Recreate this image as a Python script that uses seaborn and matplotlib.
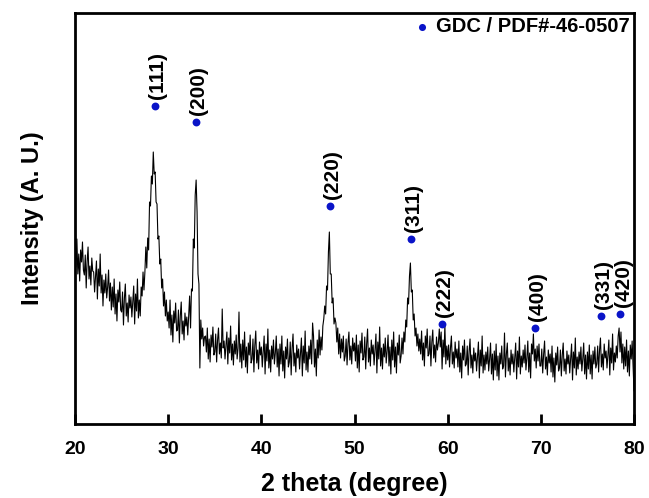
import numpy as np
import pandas as pd
import matplotlib
matplotlib.use('Agg')
import matplotlib.pyplot as plt
import seaborn as sns

# XRD scan, 20-80 deg, 0.1 deg step (intensity in arbitrary units)
scan_start = 20.0
scan_step = 0.1
intensity = [
    177, 157, 185, 150, 170, 143, 174, 162, 182, 154,   # 20
    149, 169, 136, 163, 177, 145, 158, 139, 166, 153,   # 21
    152, 132, 148, 163, 125, 155, 138, 170, 131, 149,   # 22
    118, 144, 131, 150, 126, 137, 154, 123, 141, 114,   # 23
    137, 117, 145, 110, 130, 103, 134, 122, 142, 114,   # 24
    112, 132, 99, 126, 140, 108, 121, 102, 129, 116,    # 25
    127, 107, 123, 138, 100, 130, 113, 145, 106, 124,   # 26
    108, 137, 128, 152, 134, 152, 177, 156, 186, 174,   # 27
    222, 218, 248, 240, 272, 250, 252, 222, 220, 185,   # 28
    188, 160, 165, 136, 145, 118, 132, 108, 124, 103,   # 29
    112, 96, 124, 89, 109, 82, 113, 101, 121, 93,       # 30
    94, 114, 81, 108, 122, 90, 103, 84, 111, 98,        # 31
    107, 89, 108, 128, 96, 135, 133, 185, 176, 229,     # 32
    244, 212, 150, 140, 56, 104, 85, 96, 78, 87,        # 33
    88, 72, 96, 65, 85, 62, 89, 77, 97, 69,             # 34
    72, 90, 62, 84, 96, 70, 81, 66, 115, 76,            # 35
    83, 65, 79, 92, 60, 86, 71, 98, 64, 80,             # 36
    59, 83, 70, 89, 65, 76, 112, 62, 80, 56,            # 37
    84, 64, 92, 57, 77, 51, 81, 69, 89, 61,             # 38
    65, 85, 52, 79, 93, 61, 74, 55, 82, 69,             # 39
    77, 57, 73, 88, 50, 80, 63, 95, 56, 74,             # 40
    52, 78, 65, 84, 60, 71, 88, 57, 75, 48,             # 41
    80, 60, 88, 53, 73, 46, 77, 65, 85, 57,             # 42
    62, 82, 49, 76, 90, 58, 71, 52, 79, 66,             # 43
    75, 55, 71, 86, 48, 78, 61, 93, 54, 72,             # 44
    52, 78, 65, 84, 60, 101, 88, 57, 75, 48,            # 45
    84, 66, 94, 69, 87, 74, 98, 105, 118, 110,          # 46
    138, 134, 172, 192, 150, 150, 121, 126, 100, 106,   # 47
    101, 82, 96, 70, 90, 66, 85, 72, 88, 63,            # 48
    68, 85, 59, 81, 92, 64, 78, 60, 86, 73,             # 49
    81, 63, 89, 56, 79, 52, 83, 71, 91, 64,             # 50
    67, 87, 55, 80, 95, 62, 76, 58, 84, 70,             # 51
    79, 59, 75, 90, 51, 82, 65, 97, 58, 76,             # 52
    55, 80, 67, 86, 61, 73, 89, 58, 77, 50,             # 53
    84, 64, 92, 57, 77, 51, 81, 69, 89, 61,             # 54
    68, 86, 70, 92, 82, 104, 97, 126, 120, 148,         # 55
    161, 132, 134, 104, 110, 88, 96, 78, 90, 73,        # 56
    85, 70, 93, 64, 81, 58, 88, 76, 95, 68,             # 57
    70, 88, 58, 82, 94, 66, 79, 62, 87, 74,             # 58
    81, 95, 77, 92, 55, 84, 67, 99, 60, 78,             # 59
    64, 79, 57, 76, 88, 60, 72, 56, 82, 66,             # 60
    75, 57, 83, 52, 71, 46, 78, 64, 84, 58,             # 61
    60, 78, 49, 73, 85, 56, 69, 51, 76, 63,             # 62
    71, 53, 67, 82, 46, 74, 58, 88, 51, 69,             # 63
    54, 72, 60, 77, 53, 65, 81, 50, 70, 44,             # 64
    73, 54, 80, 48, 68, 44, 71, 60, 78, 55,             # 65
    58, 91, 47, 70, 81, 53, 66, 49, 74, 60,             # 66
    70, 52, 66, 81, 45, 73, 57, 87, 50, 68,             # 67
    57, 74, 61, 79, 54, 66, 83, 52, 71, 46,             # 68
    80, 70, 90, 63, 75, 56, 78, 63, 80, 58,             # 69
    58, 75, 51, 70, 83, 55, 67, 49, 74, 61,             # 70
    70, 52, 78, 47, 66, 42, 71, 59, 77, 53,             # 71
    56, 74, 48, 69, 81, 53, 65, 50, 73, 60,             # 72
    69, 51, 65, 80, 44, 72, 56, 86, 49, 67,             # 73
    55, 72, 60, 77, 53, 65, 81, 50, 69, 45,             # 74
    72, 55, 79, 50, 69, 45, 73, 60, 77, 56,             # 75
    60, 78, 52, 74, 86, 57, 70, 54, 80, 66,             # 76
    73, 56, 69, 84, 49, 76, 61, 90, 54, 71,             # 77
    62, 78, 66, 88, 96, 72, 92, 61, 80, 55,             # 78
    77, 58, 84, 52, 73, 48, 79, 65, 83, 57,             # 79
    33,                                                 # 80
]
two_theta = np.round(scan_start + scan_step * np.arange(len(intensity)), 2)

# GDC reference reflections (PDF#46-0507)
hkl = ['(111)', '(200)', '(220)', '(311)', '(222)', '(400)', '(331)', '(420)']
peak_pos = [28.55, 33.0, 47.35, 56.05, 59.35, 69.35, 76.45, 78.55]
marker_y = [318, 302, 218, 185, 100, 96, 108, 110]

df = pd.DataFrame({'two_theta': two_theta, 'intensity': intensity})
refs = pd.DataFrame({'pos': peak_pos, 'y': marker_y, 'hkl': hkl})

sns.set_theme(style='ticks')
plt.rcParams['font.family'] = ['Liberation Sans', 'DejaVu Sans']
plt.rcParams['font.weight'] = 'bold'
for k in ['text.color', 'axes.labelcolor', 'xtick.color', 'ytick.color', 'axes.edgecolor']:
    plt.rcParams[k] = 'black'

fig = plt.figure(figsize=(6.49, 4.98), dpi=100)
ax = fig.add_axes([0.1156, 0.1486, 0.8613, 0.8253])

sns.lineplot(data=df, x='two_theta', y='intensity', color='black', lw=0.8,
             estimator=None, sort=False, ax=ax)
sns.scatterplot(data=refs, x='pos', y='y', color='#0A14C8', s=32, linewidth=0,
                label='GDC / PDF#-46-0507', ax=ax, zorder=3)

for _, r in refs.iterrows():
    ax.annotate(r['hkl'], (r['pos'], r['y']), xytext=(2, 5), textcoords='offset points',
                rotation=90, ha='center', va='bottom', fontsize=15, fontweight='bold')

ax.set_xlim(20, 80)
ax.set_ylim(0, 411)
ax.set_xticks([20, 30, 40, 50, 60, 70, 80])
ax.set_yticks([])
ax.tick_params(axis='x', direction='in', length=7, width=2, labelsize=14, pad=12)
for lab in ax.get_xticklabels():
    lab.set_fontweight('bold')
for sp in ax.spines.values():
    sp.set_visible(True)
    sp.set_linewidth(2)
    sp.set_color('black')

ax.set_xlabel('2 theta (degree)', fontsize=18, fontweight='bold', labelpad=10)
ax.set_ylabel('Intensity (A. U.)', fontsize=17, fontweight='bold', labelpad=22)

leg = ax.legend(loc='upper right', frameon=False, handletextpad=0.1, handlelength=1.2,
                borderaxespad=0.0, borderpad=0.2, markerscale=0.9,
                prop={'weight': 'bold', 'size': 14.5})

fig.savefig('out.png', dpi=100)
plt.close(fig)
